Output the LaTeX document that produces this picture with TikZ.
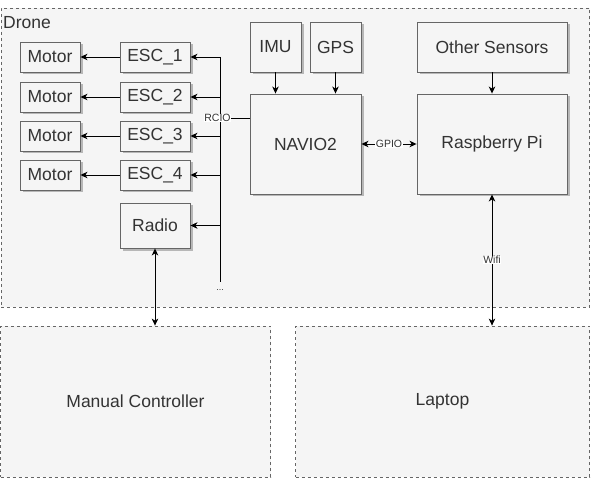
\documentclass[tikz,border=0pt]{standalone}
\usepackage{fontspec}
\setmainfont{Liberation Sans}
\usetikzlibrary{arrows.meta,shadows}
\definecolor{boxfill}{HTML}{F5F5F5}
\definecolor{boxline}{HTML}{666666}
\definecolor{boxtext}{HTML}{333333}
\begin{document}
\begin{tikzpicture}[x=1pt, y=-1pt,
  container/.style={draw=boxline, fill=boxfill, dash pattern=on 3pt off 3pt, line width=0.8pt, inner sep=0pt, text=boxtext, font=\fontsize{17.5}{20}\selectfont},
  block/.style={draw=boxline, fill=boxfill, line width=0.9pt, inner sep=0pt, text=boxtext, font=\fontsize{17.5}{20}\selectfont, drop shadow={shadow xshift=2.5pt, shadow yshift=-2.5pt, fill=black, opacity=0.25}},
  tag/.style={fill=white, inner sep=0.6pt, text=boxtext, font=\fontsize{10.5}{12}\selectfont},
  link/.style={line width=0.9pt},
  conn/.style={line width=0.9pt, -{Stealth[length=7pt,width=6.5pt,inset=2pt]}},
  both/.style={line width=0.9pt, {Stealth[length=7pt,width=6.5pt,inset=2pt]}-{Stealth[length=7pt,width=6.5pt,inset=2pt]}}]
  \useasboundingbox (0,0) rectangle (591,478);

  % Containers
  \node[container, minimum width=588.5pt, minimum height=299pt] (drone) at (295.25,157.5) {};
  \node[text=boxtext, font=\fontsize{17.5}{20}\selectfont, inner sep=0pt, anchor=base west] (dronelbl) at (3,29) {Drone};
  \node[container, minimum width=270pt, minimum height=151pt] (manual) at (135.5,401.5) {Manual Controller};
  \node[container, minimum width=294pt, minimum height=151pt] (laptop) at (442.5,401.5) {Laptop};

  % Motors and ESCs
  \node[block, minimum width=60pt, minimum height=30pt] (motor1) at (50,57) {Motor};
  \node[block, minimum width=60pt, minimum height=30pt] (motor2) at (50,97) {Motor};
  \node[block, minimum width=60pt, minimum height=30pt] (motor3) at (50,136) {Motor};
  \node[block, minimum width=60pt, minimum height=30pt] (motor4) at (50,175) {Motor};
  \node[block, minimum width=70pt, minimum height=30pt] (esc1) at (155,57) {ESC\_1};
  \node[block, minimum width=70pt, minimum height=30pt] (esc2) at (155,97) {ESC\_2};
  \node[block, minimum width=70pt, minimum height=30pt] (esc3) at (155,136) {ESC\_3};
  \node[block, minimum width=70pt, minimum height=30pt] (esc4) at (155,175) {ESC\_4};
  \node[block, minimum width=70pt, minimum height=45pt] (radio) at (155,225.5) {Radio};

  % Sensors and boards
  \node[block, minimum width=51pt, minimum height=50pt] (imu) at (275.5,47) {IMU};
  \node[block, minimum width=51pt, minimum height=50pt] (gps) at (335.5,47) {GPS};
  \node[block, minimum width=150pt, minimum height=50pt] (other) at (492,47) {Other Sensors};
  \node[block, minimum width=111pt, minimum height=100pt] (navio) at (305.5,144) {NAVIO2};
  \node[block, minimum width=150pt, minimum height=100pt] (rpi) at (492,144) {Raspberry Pi};

  % RCIO bus
  \coordinate (bustop) at (220,57);
  \node[text=boxtext, font=\fontsize{9}{10}\selectfont, inner sep=0pt] (dots) at (220,290) {...};
  \draw[link, shorten >=7pt] (bustop) -- (dots.north);
  \node[tag] (rcio) at (217.5,118) {RCIO};
  \draw[link] (rcio.east) -- (rcio.east -| navio.west);

  % Arrows
  \draw[conn] (esc1) -- (motor1);
  \draw[conn] (esc2) -- (motor2);
  \draw[conn] (esc3) -- (motor3);
  \draw[conn] (esc4) -- (motor4);
  \draw[conn] (bustop |- esc1) -- (esc1);
  \draw[conn] (bustop |- esc2) -- (esc2);
  \draw[conn] (bustop |- esc3) -- (esc3);
  \draw[conn] (bustop |- esc4) -- (esc4);
  \draw[conn] (bustop |- radio) -- (radio);
  \draw[conn] (imu.south) -- (imu.south |- navio.north);
  \draw[conn] (gps.south) -- (gps.south |- navio.north);
  \draw[conn] (other) -- (rpi);
  \draw[both] (navio) -- node[tag] {GPIO} (rpi);
  \draw[both] (rpi.south) -- node[tag] {Wifi} (rpi.south |- laptop.north);
  \draw[both] (radio.south) -- (radio.south |- manual.north);
\end{tikzpicture}
\end{document}
